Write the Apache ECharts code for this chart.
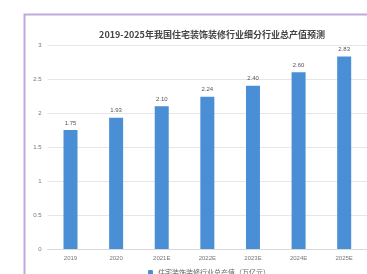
<!DOCTYPE html>
<html><head><meta charset="utf-8">
<script src="https://cdn.jsdelivr.net/npm/echarts@6/dist/echarts.min.js"></script>
<style>html,body{margin:0;padding:0;background:#fff}#c{width:367px;height:274px}</style>
</head><body><div id="c"></div>
<script>
var titleText = '2019-2025年我国住宅装饰装修行业细分行业总产值预测';
var seriesName = '住宅装饰装修行业总产值（万亿元）';
var categories = ['2019', '2020', '2021E', '2022E', '2023E', '2024E', '2025E'];
var values = [1.75, 1.93, 2.10, 2.24, 2.40, 2.60, 2.83];
var yTicks = [0, 0.5, 1, 1.5, 2, 2.5, 3];

var chart = echarts.init(document.getElementById('c'));
chart.setOption({
  animation: false,
  backgroundColor: '#fff',
  graphic: [{
    type: 'rect', left: 22, top: 12,
    shape: { width: 420, height: 320 },
    style: { fill: 'none', stroke: '#bfa9dc', lineWidth: 2 }
  }],
  title: {
    text: titleText, left: 207, top: 25, textAlign: 'center',
    textStyle: { fontSize: 9, fontWeight: 'bold', color: '#444', fontFamily: 'Noto Sans CJK SC' }
  },
  legend: {
    data: [seriesName], left: 143, top: 264, itemWidth: 5, itemHeight: 5,
    textStyle: { fontSize: 7, color: '#666', fontFamily: 'Noto Sans CJK SC' }
  },
  grid: { left: 47.7, right: -7.6, top: 45, bottom: 25 },
  xAxis: {
    type: 'category', data: categories,
    axisLine: { lineStyle: { color: '#d9d9d9' } },
    axisTick: { show: false },
    axisLabel: { fontSize: 6, color: '#777', margin: 6 }
  },
  yAxis: {
    type: 'value', min: 0, max: 3, interval: 0.5,
    axisLine: { show: false }, axisTick: { show: false },
    splitLine: { lineStyle: { color: '#e6e6e6' } },
    axisLabel: { fontSize: 6, color: '#777', margin: 6 }
  },
  series: [{
    name: seriesName, type: 'bar', data: values, barWidth: 14,
    itemStyle: { color: '#4a8fd6' },
    label: { show: true, position: 'top', fontSize: 6, color: '#555', distance: 4,
      formatter: function(p){ return p.value.toFixed(2); } }
  }]
});
</script></body></html>
